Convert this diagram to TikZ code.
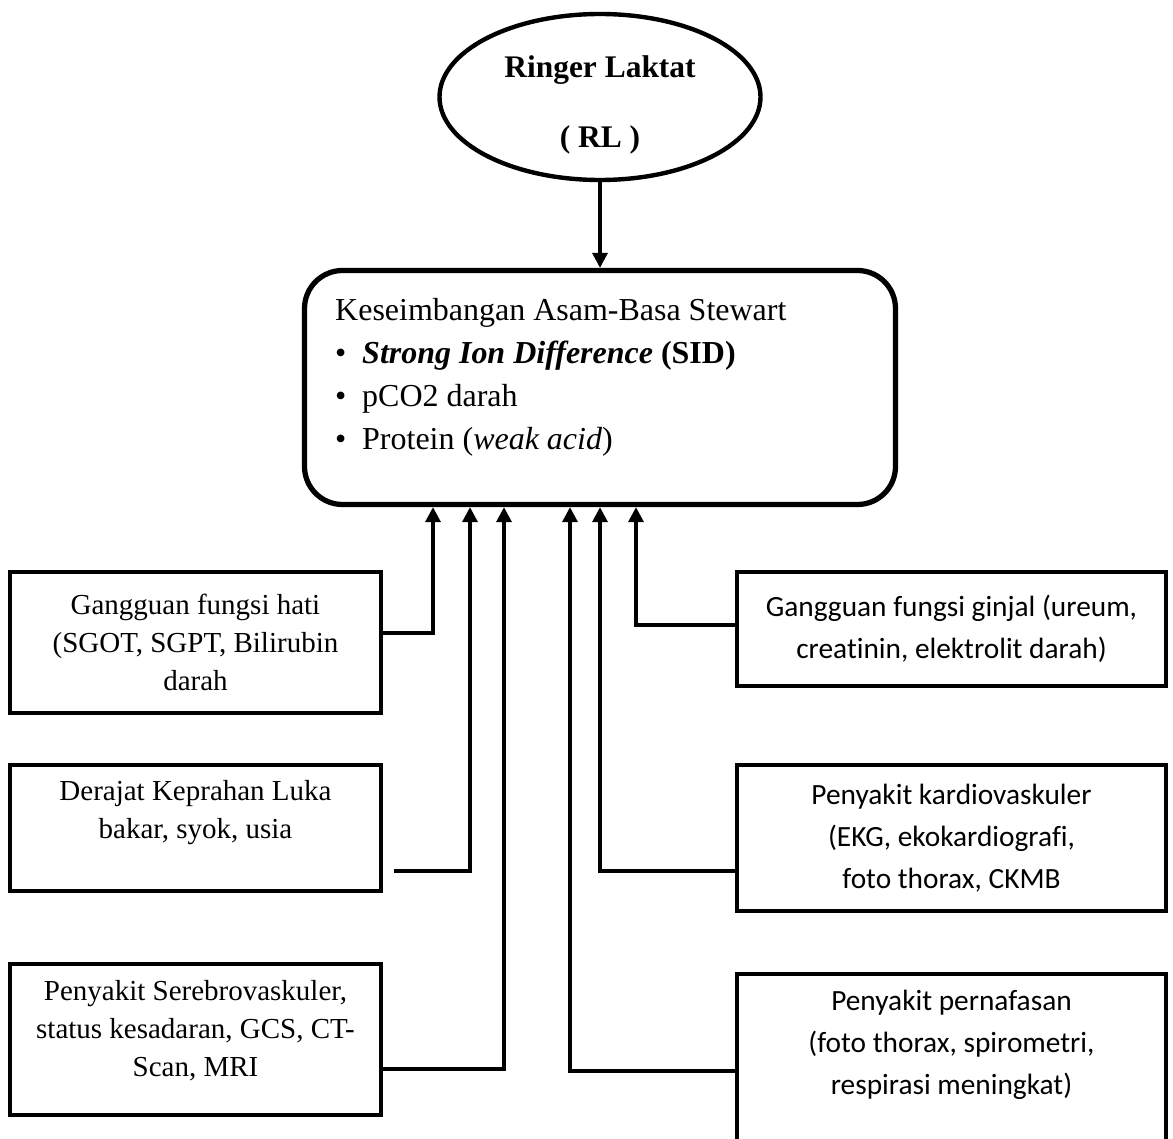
\documentclass[tikz,border=0pt]{standalone}
\usepackage{fontspec}
\setmainfont{Liberation Serif}
\newfontfamily\calibri[Ligatures=NoCommon]{Carlito}
\usetikzlibrary{arrows.meta,positioning,shapes.geometric}

\begin{document}
\begin{tikzpicture}[
	kotak/.style={draw, line width=2.3pt, align=center, inner sep=0pt},
	kiri/.style={kotak, minimum width=7.42cm, font=\fontsize{16.5}{21.6}\selectfont},
	kanan/.style={kotak, minimum width=8.58cm, font=\calibri\fontsize{16.7}{23.9}\selectfont},
	panah/.style={line width=1.9pt, -{Triangle[width=0.3cm,length=0.3cm]}}
]
	%%%%% START %%%%%
	\useasboundingbox (0,0) rectangle (23.46,-22.78);
	
	\node[ellipse, draw, line width=2.5pt, inner sep=0pt, minimum width=6.42cm, minimum height=3.32cm, align=center, font=\bfseries\fontsize{17.9}{39.8}\selectfont] (rl) at (12,-1.94) {\rule{0pt}{0.76cm}Ringer Laktat\\( RL )};
	
	\node[draw, line width=3pt, rounded corners=0.76cm, minimum width=11.82cm, minimum height=4.68cm] (asam) at (12,-7.75) {};
	\node[anchor=north west, inner sep=0pt, align=left, font=\fontsize{18.2}{24.5}\selectfont] (asamteks) at ([xshift=0.66cm,yshift=-0.6cm]asam.north west) {Keseimbangan Asam-Basa Stewart\\
		\makebox[0.54cm][l]{\textbullet}\textbf{\textit{Strong Ion Difference}} \textbf{(SID)}\\
		\makebox[0.54cm][l]{\textbullet}pCO2 darah\\
		\makebox[0.54cm][l]{\textbullet}Protein (\textit{weak acid})};
	
	% kiri
	\node[kiri, minimum height=2.82cm] (hati) at (3.91,-12.85) {Gangguan fungsi hati\\(SGOT, SGPT, Bilirubin\\darah};
	\node[kiri, minimum height=2.52cm] (luka) at (3.91,-16.56) {Derajat Keprahan Luka\\bakar, syok, usia\\\mbox{}};
	\node[kiri, minimum height=3.02cm] (serebro) at (3.91,-20.79) {Penyakit Serebrovaskuler,\\status kesadaran, GCS, CT-\\Scan, MRI\rule[-0.44cm]{0pt}{0.44cm}};
	
	% kanan
	\node[kanan, minimum height=2.28cm] (ginjal) at (19.03,-12.58) {Gangguan fungsi ginjal (ureum,\\creatinin, elektrolit darah)};
	\node[kanan, minimum height=2.92cm] (jantung) at (19.03,-16.76) {Penyakit kardiovaskuler\\(EKG, ekokardiografi,\\foto thorax, CKMB};
	\node[kanan, minimum height=3.88cm] (napas) at (19.03,-21.42) {};
	\node[below=0.36cm of napas.north, inner sep=0pt, align=center, font=\calibri\fontsize{16.7}{23.9}\selectfont] (napasteks) {Penyakit pernafasan\\(foto thorax, spirometri,\\respirasi meningkat)};
	
	% panah
	\draw[panah] (rl.south) -- (asam.north);
	\draw[panah] ([yshift=0.19cm]hati.east) -| ([xshift=-3.34cm]asam.south);
	\draw[panah] ([xshift=0.22cm,yshift=-0.86cm]luka.east) -| ([xshift=-2.6cm]asam.south);
	\draw[panah] ([yshift=-0.59cm]serebro.east) -| ([xshift=-1.92cm]asam.south);
	\draw[panah] (napas.west) -| ([xshift=-0.6cm]asam.south);
	\draw[panah] ([yshift=-0.66cm]jantung.west) -| (asam.south);
	\draw[panah] ([yshift=0.08cm]ginjal.west) -| ([xshift=0.72cm]asam.south);
	%%%%% END %%%%%
\end{tikzpicture}
\end{document}
